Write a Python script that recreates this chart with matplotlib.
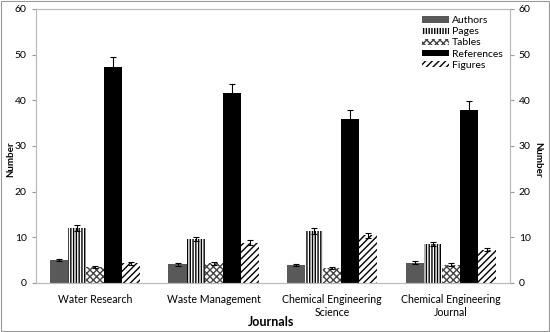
import numpy as np
import matplotlib.pyplot as plt
import matplotlib as mpl

plt.rcParams["font.family"] = ["Lato", "DejaVu Sans"]
plt.rcParams["hatch.linewidth"] = 1.0

journals = ["Water Research", "Waste Management",
            "Chemical Engineering\nScience", "Chemical Engineering\nJournal"]
series = ["Authors", "Pages", "Tables", "References", "Figures"]

authors = [5.0, 4.1, 3.9, 4.4]
pages = [12.0, 9.6, 11.4, 8.5]
tables = [3.4, 4.3, 3.2, 4.0]
references = [47.2, 41.5, 36.0, 37.9]
figures = [4.3, 8.8, 10.4, 7.3]

authors_err = [0.3, 0.3, 0.3, 0.3]
pages_err = [0.6, 0.5, 0.6, 0.4]
tables_err = [0.2, 0.3, 0.2, 0.3]
references_err = [2.3, 2.1, 1.8, 1.9]
figures_err = [0.3, 0.5, 0.6, 0.4]

values = [authors, pages, tables, references, figures]
errors = [authors_err, pages_err, tables_err, references_err, figures_err]
styles = [
    dict(color="#595959", edgecolor="#595959", hatch=None),
    dict(color="white", edgecolor="black", hatch="||||||"),
    dict(color="white", edgecolor="#444444", hatch="xxxxx"),
    dict(color="black", edgecolor="black", hatch=None),
    dict(color="white", edgecolor="black", hatch="/////"),
]

fig = plt.figure(figsize=(5.5, 3.32), dpi=100)
ax = fig.add_axes([0.065, 0.148, 0.862, 0.825])

x = np.arange(len(journals))
w = 0.152
for i, (name, vals, err, st) in enumerate(zip(series, values, errors, styles)):
    pos = x + (i - 2) * w
    ax.bar(pos, vals, w, label=name, color=st["color"],
           edgecolor=st["edgecolor"], hatch=st["hatch"], linewidth=0.0)
    ax.errorbar(pos, vals, yerr=err, fmt="none", ecolor="black",
                elinewidth=0.8, capsize=2, capthick=0.8)

ax.set_xlim(-0.5, len(journals) - 0.5)
ax.set_ylim(0, 60)
ax.set_yticks(np.arange(0, 61, 10))
ax.set_xticks(x)
ax.set_xticklabels(journals, fontsize=7.6, linespacing=1.2)
ax.tick_params(axis="x", length=0, pad=8)
ax.tick_params(axis="y", labelsize=7.5, length=3, color="#999999")

for side in ["top", "bottom", "left", "right"]:
    ax.spines[side].set_color("#bbbbbb")
    ax.spines[side].set_linewidth(0.8)

ax2 = ax.twinx()
ax2.set_ylim(0, 60)
ax2.set_yticks(np.arange(0, 61, 10))
ax2.tick_params(axis="y", labelsize=7.5, length=3, color="#999999")
for side in ["top", "bottom", "left", "right"]:
    ax2.spines[side].set_color("#bbbbbb")
    ax2.spines[side].set_linewidth(0.8)

fig.text(0.019, 0.52, "Number", rotation=90, ha="center", va="center",
         fontsize=7, fontweight="bold")
fig.text(0.978, 0.52, "Number", rotation=-90, ha="center", va="center",
         fontsize=7, fontweight="bold")
fig.text(0.492, 0.03, "Journals", ha="center", va="center",
         fontsize=9, fontweight="bold")

ax.legend(loc="upper right", frameon=False, fontsize=7.5,
          handlelength=2.6, handleheight=0.55, labelspacing=0.2,
          handletextpad=0.3, borderaxespad=0.3)

fig.patches.append(mpl.patches.Rectangle((0.002, 0.003), 0.996, 0.994,
                                         transform=fig.transFigure, fill=False,
                                         edgecolor="#999999", linewidth=0.8))

fig.savefig("out.png")
